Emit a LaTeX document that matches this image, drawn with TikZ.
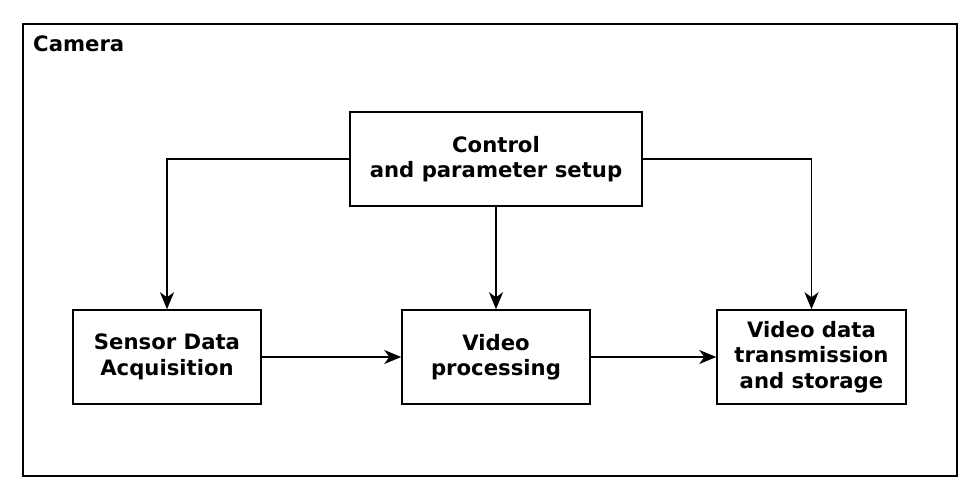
\documentclass[tikz,border=0pt]{standalone}
\usepackage{fontspec}
\setmainfont{DejaVu Sans}
\usetikzlibrary{arrows.meta}
\begin{document}
\begin{tikzpicture}[x=1pt,y=-1pt,
  box/.style={draw,line width=1.5pt,inner sep=0pt,align=center,font=\fontsize{21.2}{25.5}\selectfont\bfseries},
  conn/.style={line width=1.5pt,-{Stealth[length=17pt,width=14pt,inset=5pt]}}]
\useasboundingbox (0,0) rectangle (980,500);
\draw[line width=1.5pt] (23,24) rectangle (957,476);
\node[anchor=north west,inner sep=0pt,font=\fontsize{21.2}{25}\selectfont\bfseries] (cam) at (33,36) {Camera};
\node[box,minimum width=292pt,minimum height=94pt] (ctrl) at (496,159) {Control\\and parameter setup};
\node[box,minimum width=188pt,minimum height=94pt] (sens) at (167,357) {Sensor Data\\Acquisition};
\node[box,minimum width=188pt,minimum height=94pt] (proc) at (496,357) {Video\\processing};
\node[box,minimum width=189pt,minimum height=94pt] (trans) at (811.5,357) {Video data\\transmission\\and storage};
\draw[conn] (ctrl.west) -| (sens.north);
\draw[conn] (ctrl.east) -| (trans.north);
\draw[conn] (ctrl.south) -- (proc.north);
\draw[conn] (sens.east) -- (proc.west);
\draw[conn] (proc.east) -- (trans.west);
\end{tikzpicture}
\end{document}
